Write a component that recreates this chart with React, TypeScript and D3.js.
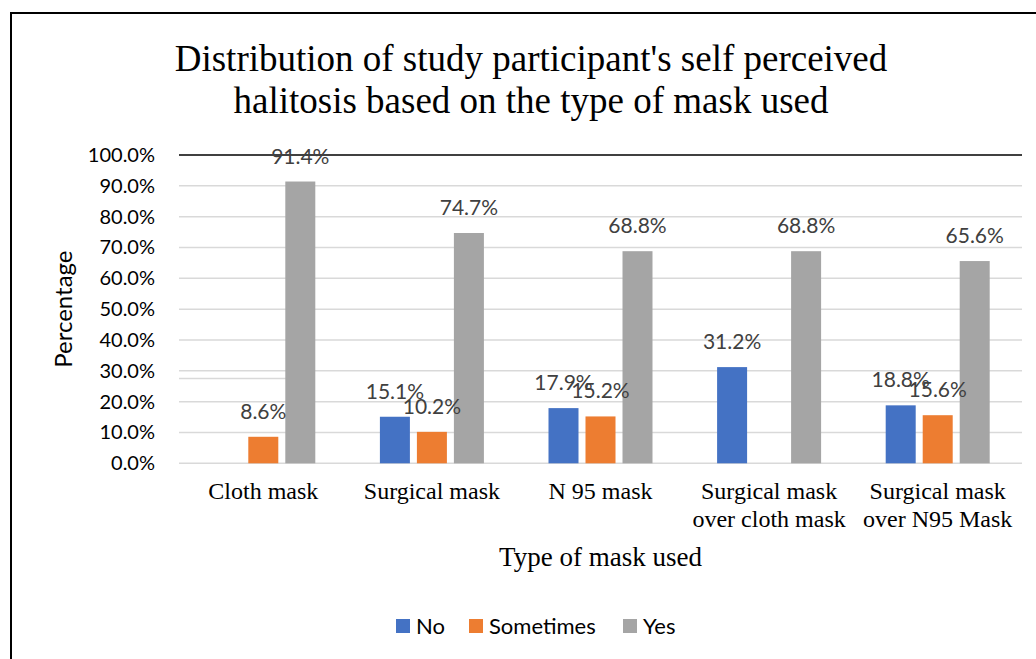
import React, { useEffect, useRef } from 'react';
import * as d3 from 'd3';

const categories = [
  ['Cloth mask'],
  ['Surgical mask'],
  ['N 95 mask'],
  ['Surgical mask', 'over cloth mask'],
  ['Surgical mask', 'over N95 Mask'],
];
const seriesNames = ['No', 'Sometimes', 'Yes'];
const seriesColors = ['#4472c4', '#ed7d31', '#a5a5a5'];
const noValues = [null, 15.1, 17.9, 31.2, 18.8];
const sometimesValues = [8.6, 10.2, 15.2, null, 15.6];
const yesValues = [91.4, 74.7, 68.8, 68.8, 65.6];
const yTicks = [0, 10, 20, 30, 40, 50, 60, 70, 80, 90, 100];

const calibri = 'Lato, "Open Sans", sans-serif';
const serif = '"Liberation Serif", "Times New Roman", serif';

export default function App() {
  const ref = useRef(null);

  useEffect(() => {
    d3.select(ref.current).selectAll('*').remove();
    const W = 1036;
    const H = 659;
    const svg = d3
      .select(ref.current)
      .append('svg')
      .attr('width', W)
      .attr('height', H)
      .style('position', 'absolute')
      .style('left', 0)
      .style('top', 0);

    svg.append('rect').attr('width', W).attr('height', H).attr('fill', '#fff');

    // frame (left and top edges only visible)
    svg.append('line').attr('x1', 11).attr('x2', 11).attr('y1', 13).attr('y2', H).attr('stroke', '#000').attr('stroke-width', 2);
    svg.append('line').attr('x1', 10).attr('x2', W).attr('y1', 13).attr('y2', 13).attr('stroke', '#000').attr('stroke-width', 2);

    const left = 179;
    const right = 1022;
    const top = 155;
    const bottom = 463.3;

    const x = d3.scaleBand().domain(categories.map((c, i) => String(i))).range([left, right]);
    const y = d3.scaleLinear().domain([0, 100]).range([bottom, top]);
    const barW = 30;
    const gap = 7;
    const xs = d3
      .scaleBand()
      .domain(seriesNames)
      .range([0, barW * 3 + gap * 2])
      .paddingInner(gap / (barW + gap));

    // title
    const title = svg.append('text').attr('text-anchor', 'middle').attr('font-family', serif).attr('font-size', 37).attr('fill', '#000');
    title.append('tspan').attr('x', 531).attr('y', 71).text("Distribution of study participant's self perceived");
    title.append('tspan').attr('x', 531).attr('y', 113).text('halitosis based on the type of mask used');

    // gridlines
    svg
      .append('g')
      .selectAll('line')
      .data(yTicks)
      .join('line')
      .attr('x1', left)
      .attr('x2', right)
      .attr('y1', (d) => y(d))
      .attr('y2', (d) => y(d))
      .attr('stroke', (d) => (d === 100 ? '#404040' : '#d9d9d9'))
      .attr('stroke-width', (d) => (d === 100 ? 2 : 1.5));

    // stray short line segment in the original
    svg.append('line').attr('x1', left).attr('x2', 292).attr('y1', y(27.5)).attr('y2', y(27.5)).attr('stroke', '#d9d9d9').attr('stroke-width', 1.5);

    // y tick labels
    svg
      .append('g')
      .selectAll('text')
      .data(yTicks)
      .join('text')
      .attr('x', 155)
      .attr('y', (d) => y(d))
      .attr('dy', '0.35em')
      .attr('text-anchor', 'end')
      .attr('font-family', calibri)
      .attr('font-size', 20)
      .attr('fill', '#000')
      .text((d) => d3.format('.1f')(d) + '%');

    // y axis title
    svg
      .append('text')
      .attr('transform', `translate(72,${(top + bottom) / 2}) rotate(-90)`)
      .attr('text-anchor', 'middle')
      .attr('font-family', calibri)
      .attr('font-size', 24)
      .attr('fill', '#000')
      .text('Percentage');

    const series = [noValues, sometimesValues, yesValues];
    const bars = [];
    categories.forEach((c, i) => {
      series.forEach((vals, s) => {
        if (vals[i] == null) return;
        const groupLeft = x(String(i)) + x.bandwidth() / 2 - (barW * 3 + gap * 2) / 2;
        bars.push({ x: groupLeft + xs(seriesNames[s]), v: vals[i], color: seriesColors[s] });
      });
    });

    svg
      .append('g')
      .selectAll('rect')
      .data(bars)
      .join('rect')
      .attr('x', (d) => d.x)
      .attr('width', xs.bandwidth())
      .attr('y', (d) => y(d.v))
      .attr('height', (d) => bottom - y(d.v))
      .attr('fill', (d) => d.color);

    svg
      .append('g')
      .selectAll('text')
      .data(bars)
      .join('text')
      .attr('x', (d) => d.x + xs.bandwidth() / 2)
      .attr('y', (d) => y(d.v) - 18)
      .attr('text-anchor', 'middle')
      .attr('font-family', calibri)
      .attr('font-size', 21)
      .attr('fill', '#404040')
      .text((d) => d3.format('.1f')(d.v) + '%');

    // category labels
    const cat = svg.append('g');
    categories.forEach((lines, i) => {
      const t = cat
        .append('text')
        .attr('text-anchor', 'middle')
        .attr('font-family', serif)
        .attr('font-size', 24)
        .attr('fill', '#000');
      lines.forEach((l, k) => {
        t.append('tspan')
          .attr('x', x(String(i)) + x.bandwidth() / 2)
          .attr('y', 499 + k * 28)
          .text(l);
      });
    });

    // x axis title
    svg
      .append('text')
      .attr('x', (left + right) / 2)
      .attr('y', 566)
      .attr('text-anchor', 'middle')
      .attr('font-family', serif)
      .attr('font-size', 27)
      .attr('fill', '#000')
      .text('Type of mask used');

    // legend
    const legendX = [396, 469, 623];
    const leg = svg.append('g');
    seriesNames.forEach((n, s) => {
      leg.append('rect').attr('x', legendX[s]).attr('y', 619).attr('width', 14).attr('height', 14).attr('fill', seriesColors[s]);
      leg
        .append('text')
        .attr('x', legendX[s] + 20)
        .attr('y', 626)
        .attr('dy', '0.35em')
        .attr('font-family', calibri)
        .attr('font-size', 22)
        .attr('fill', '#000')
        .text(n);
    });
  }, []);

  return <div ref={ref}></div>;
}
